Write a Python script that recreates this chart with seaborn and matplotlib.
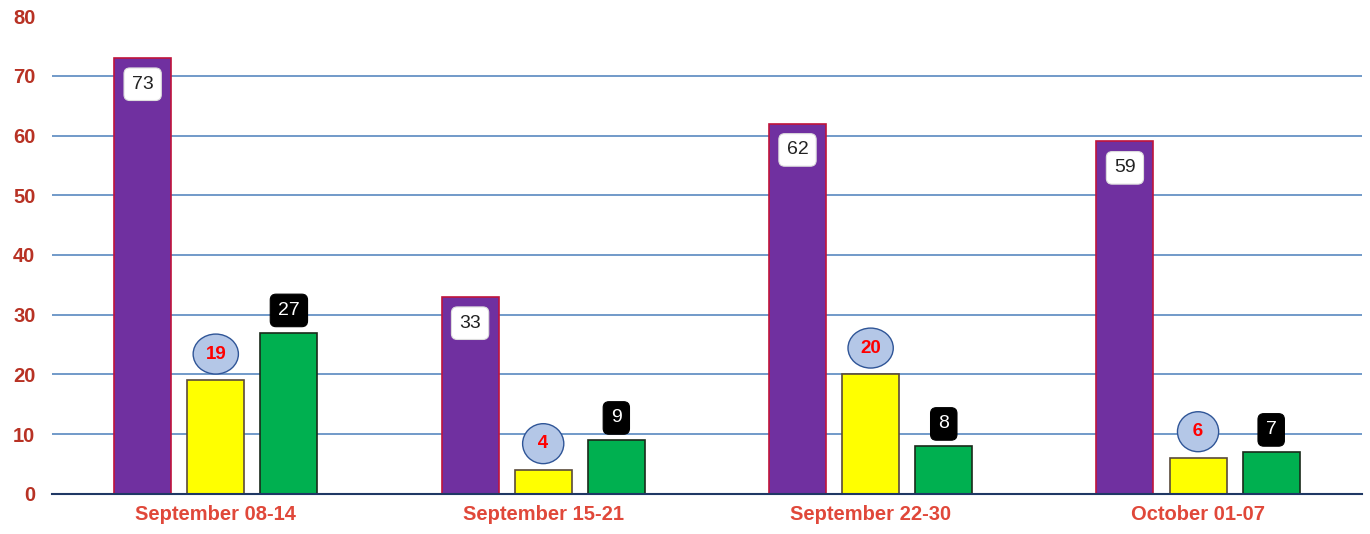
import matplotlib
matplotlib.use("Agg")
import matplotlib.pyplot as plt
import seaborn as sns
import pandas as pd

weeks = ["September 08-14", "September 15-21", "September 22-30", "October 01-07"]
series_names = ["Series A", "Series B", "Series C"]
series_a = [73, 33, 62, 59]
series_b = [19, 4, 20, 6]
series_c = [27, 9, 8, 7]
y_ticks = [0, 10, 20, 30, 40, 50, 60, 70, 80]

colors = ["#7030a0", "#ffff00", "#00b050"]
edges = ["#c0143c", "#5a4a3a", "#1a2a1a"]

rows = []
for name, vals in zip(series_names, [series_a, series_b, series_c]):
    for w, v in zip(weeks, vals):
        rows.append({"week": w, "series": name, "value": v})
df = pd.DataFrame(rows)

sns.set_theme(style="white")
plt.rcParams['font.family'] = ['Liberation Sans', 'DejaVu Sans']

fig = plt.figure(figsize=(13.7, 5.34), dpi=100)
ax = fig.add_axes([0.038, 0.075, 0.956, 0.895])

sns.barplot(data=df, x="week", y="value", hue="series", order=weeks,
            hue_order=series_names, palette=colors, width=0.67, gap=0.22,
            ax=ax, legend=False, saturation=1)

for i, cont in enumerate(ax.containers):
    for bar in cont:
        bar.set_edgecolor(edges[i])
        bar.set_linewidth(1.2)
        bar.set_zorder(3)

ax.set_xlim(-0.5, 3.5)
ax.set_ylim(0, 80)
ax.set_yticks(y_ticks)
ax.set_xlabel("")
ax.set_ylabel("")
for y in y_ticks[1:-1]:
    ax.axhline(y, color="#4a7ebb", lw=1.1, zorder=1)
for s in ["top", "right", "left"]:
    ax.spines[s].set_visible(False)
ax.spines["bottom"].set_color("#1f3864")
ax.spines["bottom"].set_linewidth(1.5)
ax.spines["bottom"].set_zorder(4)
ax.tick_params(axis="y", length=0, pad=12, labelsize=14.5, labelcolor="#b83224")
ax.tick_params(axis="x", length=0, pad=8, labelsize=14.5, labelcolor="#e0483a")
for lbl in ax.get_yticklabels() + ax.get_xticklabels():
    lbl.set_fontweight("bold")

# labels
for bar, v in zip(ax.containers[0], series_a):
    ax.annotate(str(v), (bar.get_x() + bar.get_width() / 2, v), xytext=(0, -19),
                textcoords="offset points", ha="center", va="center", fontsize=14,
                color="#222222", zorder=6,
                bbox=dict(boxstyle="round,pad=0.4,rounding_size=0.3", fc="white", ec="#dddddd", lw=0.8))
for bar, v in zip(ax.containers[1], series_b):
    txt = str(v) if len(str(v)) > 1 else "\u2009" + str(v) + "\u2009"
    ax.annotate(txt, (bar.get_x() + bar.get_width() / 2, v), xytext=(0, 19),
                textcoords="offset points", ha="center", va="center", fontsize=13.5,
                color="#ff0000", fontweight="bold", zorder=6,
                bbox=dict(boxstyle="ellipse,pad=0.3", fc="#b4c7e7", ec="#2f5597", lw=1.0))
for bar, v in zip(ax.containers[2], series_c):
    ax.annotate(str(v), (bar.get_x() + bar.get_width() / 2, v), xytext=(0, 16),
                textcoords="offset points", ha="center", va="center", fontsize=14,
                color="white", zorder=6,
                bbox=dict(boxstyle="round,pad=0.4,rounding_size=0.3", fc="black", ec="black", lw=0.8))

fig.savefig("out.png", dpi=100, facecolor="white")
